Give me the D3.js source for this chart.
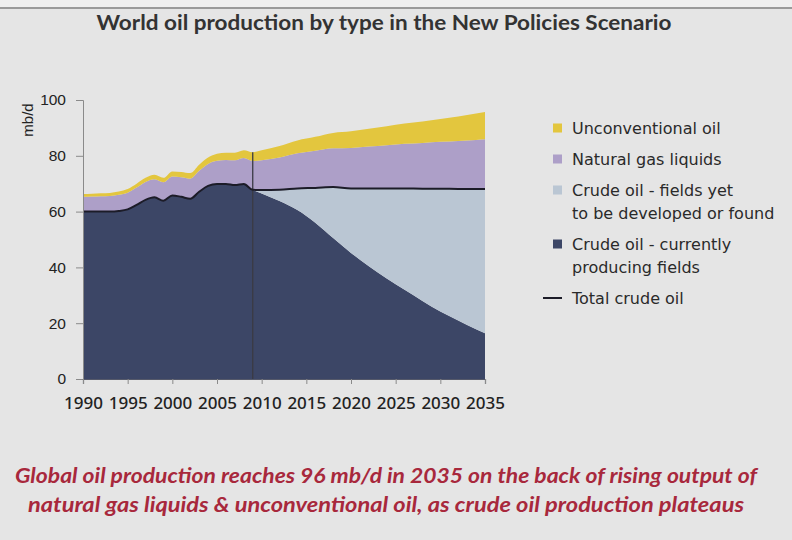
<!DOCTYPE html>
<html><head><meta charset="utf-8">
<script src="https://cdn.jsdelivr.net/npm/d3@7"></script>
<style>body{margin:0;background:#e5e5e5;} svg{display:block}</style>
</head><body>
<svg id="c" width="792" height="540"></svg>
<script>
// ---- data (mb/d) ----
const years = [1990,1991,1992,1993,1994,1995,1996,1997,1998,1999,2000,2001,2002,2003,2004,2005,2006,2007,2008,2009,
               2010,2012,2014,2016,2018,2020,2022,2024,2026,2028,2030,2032,2034,2035];
const crudeExisting = [60,60,60,60,60.2,60.8,62.4,64.2,65.1,63.9,65.8,65.3,64.6,67.1,69.2,69.9,69.9,69.5,69.9,67.8,
               66.5,63.8,60.6,56,50.5,45.2,40.4,36,32,28,24.2,21,17.8,16.4];
const crudeYetToFind = [0,0,0,0,0,0,0,0,0,0,0,0,0,0,0,0,0,0,0,0,
               1.2,4.0,7.7,12.5,18.3,23.1,27.9,32.3,36.3,40.2,44.0,47.1,50.3,51.7];
const naturalGasLiquids = [5.3,5.4,5.5,5.6,5.8,6.0,6.2,6.4,6.5,6.6,6.8,7.0,7.2,7.5,7.9,8.3,8.6,8.9,9.3,10.3,
               10.7,11.6,12.6,13.3,13.9,14.5,15.0,15.5,16.0,16.4,16.8,17.2,17.6,17.8];
const unconventionalOil = [1.0,1.0,1.1,1.1,1.2,1.3,1.4,1.5,1.6,1.6,1.8,1.9,2.0,2.2,2.3,2.5,2.6,2.7,2.8,3.2,
               3.6,4.1,4.6,5.0,5.5,6.0,6.4,6.8,7.3,7.7,8.2,8.8,9.5,9.8];
const xTicks = [1990,1995,2000,2005,2010,2015,2020,2025,2030,2035];
const yTicks = [0,20,40,60,80,100];
const projectionStart = 2009;
const keys = ["existing","yet","ngl","unconv"];
const legendItems = [
  {key:"unconv", lines:["Unconventional oil"]},
  {key:"ngl", lines:["Natural gas liquids"]},
  {key:"yet", lines:["Crude oil - fields yet","to be developed or found"]},
  {key:"existing", lines:["Crude oil - currently","producing fields"]},
  {key:"total", lines:["Total crude oil"]}
];
const titleText = "World oil production by type in the New Policies Scenario";
const captionLines = ["Global oil production reaches 96 mb/d in 2035 on the back of rising output of",
                      "natural gas liquids & unconventional oil, as crude oil production plateaus"];

const colors = {existing:"#3c4666", yet:"#bac6d3", ngl:"#ad9fc8", unconv:"#e3c63e", total:"#1c1c28"};

const rows = years.map((y,i)=>({year:y, existing:crudeExisting[i], yet:crudeYetToFind[i],
  ngl:naturalGasLiquids[i], unconv:unconventionalOil[i]}));

const svg = d3.select("#c");
// background
svg.append("rect").attr("width",792).attr("height",540).attr("fill","#e5e5e5");
svg.append("rect").attr("width",792).attr("height",7).attr("fill","#efefef");
svg.append("rect").attr("y",7).attr("width",792).attr("height",2).attr("fill","#9a9a9a");

const x = d3.scaleLinear().domain([1990,2035]).range([83,485]);
const y = d3.scaleLinear().domain([0,100]).range([379,100]);

const stack = d3.stack().keys(keys)(rows);
const area = d3.area().x(d=>x(d.data.year)).y0(d=>y(d[0])).y1(d=>y(d[1])).curve(d3.curveMonotoneX);

svg.append("g").selectAll("path").data(stack).join("path")
  .attr("d",area).attr("fill",d=>colors[d.key]);

// projection divider
const lastHist = stack[3].find(d=>d.data.year===projectionStart);
svg.append("line").attr("x1",x(projectionStart)).attr("x2",x(projectionStart))
  .attr("y1",y(0)).attr("y2",y(lastHist[1]))
  .attr("stroke","#3a3a44").attr("stroke-width",1.3);

// total crude line = top of "yet" layer
const line = d3.line().x(d=>x(d.data.year)).y(d=>y(d[1])).curve(d3.curveMonotoneX);
svg.append("path").datum(stack[1]).attr("d",line).attr("fill","none")
  .attr("stroke",colors.total).attr("stroke-width",2);

// axes
const yAxis = d3.axisLeft(y).tickValues(yTicks).tickSize(7).tickPadding(9);
const gy = svg.append("g").attr("transform","translate(83,0)").call(yAxis);
gy.select(".domain").attr("stroke","#8a8a8a");
gy.selectAll(".tick line").attr("stroke","#8a8a8a");
gy.selectAll(".tick text").attr("font-family","'Liberation Sans', Arial, sans-serif")
  .attr("font-size",15.5).attr("fill","#222").attr("dx",-1);

const xAxis = d3.axisBottom(x).tickValues(xTicks).tickFormat(d3.format("d")).tickSize(5).tickPadding(13);
const gx = svg.append("g").attr("transform","translate(0,379)").call(xAxis);
gx.select(".domain").attr("stroke","#55596a").attr("stroke-width",1.2);
gx.selectAll(".tick line").attr("stroke","#8a8a8a");
gx.selectAll(".tick text").attr("font-family","'Noto Sans', sans-serif")
  .attr("font-size",17).attr("font-weight",500).attr("fill","#222");

// y label
svg.append("text").attr("transform","translate(33,120) rotate(-90)")
  .attr("text-anchor","middle").attr("font-family","'Liberation Sans', Arial, sans-serif")
  .attr("font-size",15).attr("fill","#222").text("mb/d");

// title
svg.append("text").attr("x",384).attr("y",30).attr("text-anchor","middle")
  .attr("font-family","Lato, sans-serif").attr("font-weight",700).attr("font-size",21)
  .attr("fill","#333").attr("textLength",575).attr("lengthAdjust","spacingAndGlyphs").text(titleText);

// legend
const lineYs = [[128],[159],[190,213],[244,267],[298]];
const lg = svg.append("g");
legendItems.forEach((it,i)=>{
  const ys = lineYs[i];
  if(it.key==="total"){
    lg.append("line").attr("x1",543).attr("x2",562).attr("y1",ys[0]).attr("y2",ys[0])
      .attr("stroke",colors.total).attr("stroke-width",2);
  } else {
    lg.append("rect").attr("x",553).attr("y",ys[0]-4.5).attr("width",9).attr("height",9)
      .attr("fill",colors[it.key]);
  }
  it.lines.forEach((t,j)=>{
    lg.append("text").attr("x",572).attr("y",ys[j]).attr("dy","0.35em")
      .attr("font-family","'DejaVu Sans', sans-serif").attr("font-size",16).attr("fill","#2a2a2a").text(t);
  });
});

// caption
const capY = [483,512], capW = [742,716];
captionLines.forEach((t,i)=>{
  svg.append("text").attr("x",386).attr("y",capY[i]).attr("text-anchor","middle")
    .attr("font-family","Lato, sans-serif").attr("font-style","italic").attr("font-weight",700)
    .attr("font-size",21).attr("fill","#a8283c")
    .attr("textLength",capW[i]).attr("lengthAdjust","spacingAndGlyphs").text(t);
});
</script>
</body></html>
